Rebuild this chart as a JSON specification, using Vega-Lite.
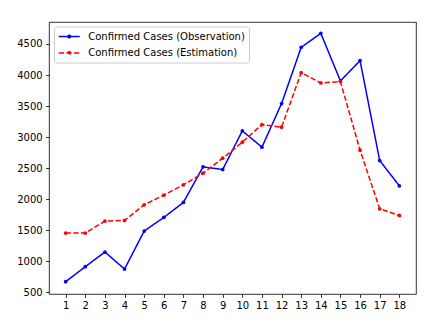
{
  "$schema": "https://vega.github.io/schema/vega-lite/v6.json",
  "autosize": "none",
  "width": 367,
  "height": 272,
  "padding": {"left": 49, "top": 22, "right": 25, "bottom": 33},
  "background": "white",
  "config": {
    "font": "DejaVu Sans",
    "view": {"stroke": "black", "strokeWidth": 0.8},
    "axis": {
      "grid": false,
      "domain": false,
      "tickColor": "black",
      "tickWidth": 0.8,
      "tickSize": 3.4,
      "labelPadding": 3.4,
      "labelFont": "DejaVu Sans",
      "labelFontSize": 10,
      "labelColor": "#000",
      "title": null
    },
    "legend": {
      "title": null,
      "orient": "none",
      "legendX": 5,
      "legendY": 4.5,
      "padding": 4,
      "strokeColor": "#cccccc",
      "fillColor": "white",
      "cornerRadius": 2,
      "symbolType": "M-1,0H3M0.75,0A0.25,0.25,0,1,1,1.25,0A0.25,0.25,0,1,1,0.75,0",
      "symbolSize": 110,
      "symbolStrokeWidth": 1.5,
      "labelFont": "DejaVu Sans",
      "labelFontSize": 10,
      "labelColor": "#000",
      "labelOffset": 18.2,
      "rowPadding": 5.5
    }
  },
  "data": {
    "values": [
      {"day": 1, "series": "Confirmed Cases (Observation)", "cases": 672},
      {"day": 2, "series": "Confirmed Cases (Observation)", "cases": 913},
      {"day": 3, "series": "Confirmed Cases (Observation)", "cases": 1149},
      {"day": 4, "series": "Confirmed Cases (Observation)", "cases": 875},
      {"day": 5, "series": "Confirmed Cases (Observation)", "cases": 1487},
      {"day": 6, "series": "Confirmed Cases (Observation)", "cases": 1706},
      {"day": 7, "series": "Confirmed Cases (Observation)", "cases": 1948},
      {"day": 8, "series": "Confirmed Cases (Observation)", "cases": 2521},
      {"day": 9, "series": "Confirmed Cases (Observation)", "cases": 2478},
      {"day": 10, "series": "Confirmed Cases (Observation)", "cases": 3100},
      {"day": 11, "series": "Confirmed Cases (Observation)", "cases": 2838},
      {"day": 12, "series": "Confirmed Cases (Observation)", "cases": 3540},
      {"day": 13, "series": "Confirmed Cases (Observation)", "cases": 4446},
      {"day": 14, "series": "Confirmed Cases (Observation)", "cases": 4671},
      {"day": 15, "series": "Confirmed Cases (Observation)", "cases": 3905},
      {"day": 16, "series": "Confirmed Cases (Observation)", "cases": 4232},
      {"day": 17, "series": "Confirmed Cases (Observation)", "cases": 2623},
      {"day": 18, "series": "Confirmed Cases (Observation)", "cases": 2216},
      {"day": 1, "series": "Confirmed Cases (Estimation)", "cases": 1454},
      {"day": 2, "series": "Confirmed Cases (Estimation)", "cases": 1454},
      {"day": 3, "series": "Confirmed Cases (Estimation)", "cases": 1647},
      {"day": 4, "series": "Confirmed Cases (Estimation)", "cases": 1658},
      {"day": 5, "series": "Confirmed Cases (Estimation)", "cases": 1910},
      {"day": 6, "series": "Confirmed Cases (Estimation)", "cases": 2065},
      {"day": 7, "series": "Confirmed Cases (Estimation)", "cases": 2232},
      {"day": 8, "series": "Confirmed Cases (Estimation)", "cases": 2419},
      {"day": 9, "series": "Confirmed Cases (Estimation)", "cases": 2660},
      {"day": 10, "series": "Confirmed Cases (Estimation)", "cases": 2918},
      {"day": 11, "series": "Confirmed Cases (Estimation)", "cases": 3201},
      {"day": 12, "series": "Confirmed Cases (Estimation)", "cases": 3159},
      {"day": 13, "series": "Confirmed Cases (Estimation)", "cases": 4038},
      {"day": 14, "series": "Confirmed Cases (Estimation)", "cases": 3872},
      {"day": 15, "series": "Confirmed Cases (Estimation)", "cases": 3894},
      {"day": 16, "series": "Confirmed Cases (Estimation)", "cases": 2789},
      {"day": 17, "series": "Confirmed Cases (Estimation)", "cases": 1846},
      {"day": 18, "series": "Confirmed Cases (Estimation)", "cases": 1738}
    ]
  },
  "encoding": {
    "x": {
      "field": "day",
      "type": "quantitative",
      "scale": {"domain": [0.15, 18.85], "nice": false, "zero": false},
      "axis": {"values": [1,2,3,4,5,6,7,8,9,10,11,12,13,14,15,16,17,18], "format": "d"}
    },
    "y": {
      "field": "cases",
      "type": "quantitative",
      "scale": {"domain": [473, 4854], "nice": false, "zero": false},
      "axis": {"values": [500,1000,1500,2000,2500,3000,3500,4000,4500], "format": "d"}
    },
    "color": {
      "field": "series",
      "type": "nominal",
      "scale": {
        "domain": ["Confirmed Cases (Observation)", "Confirmed Cases (Estimation)"],
        "range": ["#0000ff", "#ff0000"]
      }
    },
    "strokeDash": {
      "field": "series",
      "type": "nominal",
      "scale": {
        "domain": ["Confirmed Cases (Observation)", "Confirmed Cases (Estimation)"],
        "range": [[1, 0], [5.3, 2.3]]
      }
    }
  },
  "layer": [
    {"mark": {"type": "line", "strokeWidth": 1.5}},
    {"mark": {"type": "point", "filled": true, "size": 14, "opacity": 1}, "encoding": {"strokeDash": {"value": [1, 0]}}}
  ]
}
